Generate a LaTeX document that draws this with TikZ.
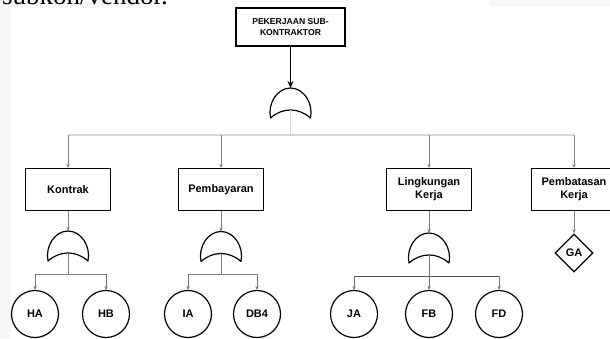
\documentclass[tikz,border=0pt]{standalone}
\usepackage{fontspec}
\setmainfont{Liberation Serif}
\newfontfamily\lsans{Liberation Sans}
\usetikzlibrary{arrows.meta,shapes.geometric}
\begin{document}
\begin{tikzpicture}[x=1pt,y=-1pt,
  lbl/.style={font=\lsans\bfseries\fontsize{11}{13}\selectfont},
  box/.style={lbl, draw=black, line width=1.2pt, minimum width=85pt, minimum height=42pt, inner sep=0pt, align=center},
  topbox/.style={box, line width=1.4pt, minimum width=109pt, minimum height=38pt, font=\lsans\bfseries\fontsize{8.6}{10.5}\selectfont},
  event/.style={lbl, circle, draw=black, line width=1.2pt, minimum size=47pt, inner sep=0pt},
  undev/.style={lbl, diamond, draw=black, line width=1.2pt, minimum width=38pt, minimum height=38pt, inner sep=0pt},
  thickarrow/.style={draw=black, line width=1.5pt, -{Stealth[length=7pt,width=6pt]}},
  bus/.style={draw=black!16, line width=1.4pt},
  branch/.style={draw=black!50, line width=0.7pt, -{Stealth[length=4pt,width=3.5pt]}},
  subline/.style={draw=black!50, line width=1pt},
  subarrow/.style={draw=black!55, line width=0.8pt, -{Stealth[length=4pt,width=3.5pt]}},
  orgate/.pic={
    \draw[line width=1.2pt, line join=round]
      (-20,15) .. controls (-23,0) and (-13,-15) .. (0,-15)
      .. controls (13,-15) and (23,0) .. (20,15)
      .. controls (8,4.3) and (-8,4.3) .. cycle;
    \coordinate (-in) at (0,-15);
    \coordinate (-out) at (0,7);
  }
]
\clip (0,0) rectangle (610,338);
\useasboundingbox (0,0) rectangle (610,338);
% faint page background remnants
\fill[black!3] (0,0) rectangle (11,338);
\fill[black!3] (0,0) rectangle (143,8);
\fill[black!3] (490,0) rectangle (610,7);
\node[anchor=base east, inner sep=0pt, font=\fontsize{27}{30}\selectfont] (cap) at (168,4) {subkon/vendor.};

% top event
\node[topbox] (top) at (290.5,27) {PEKERJAAN SUB-\\KONTRAKTOR};
\pic (g0) at (290.5,103) {orgate};
\draw[thickarrow] (top) -- (g0-in);

% level 1 boxes
\node[box] (kon) at (68,189.5) {Kontrak};
\node[box] (bay) at (221,189.5) {Pembayaran};
\node[box] (lin) at (429,189.5) {Lingkungan\\Kerja};
\node[box] (pat) at (574,189.5) {Pembatasan\\Kerja};

\coordinate (j0) at (290.5,135);
\draw[bus] (g0-out) -- (j0);
\draw[bus] (kon.north |- j0) -- (pat.north |- j0);
\draw[branch] (kon.north |- j0) -- (kon);
\draw[branch] (bay.north |- j0) -- (bay);
\draw[branch] (lin.north |- j0) -- (lin);
\draw[branch] (pat.north |- j0) -- (pat);

% level 2 gates
\pic (g1) at (68,246) {orgate};
\pic (g2) at (221,246.5) {orgate};
\pic (g3) at (429,248) {orgate};
\draw[branch] (kon) -- (g1-in);
\draw[branch] (bay) -- (g2-in);
\draw[branch] (lin) -- (g3-in);

% undeveloped event
\node[undev] (ga) at (574,253) {GA};
\draw[branch] (pat) -- (ga);

% basic events
\node[event] (ha) at (35,314) {HA};
\node[event] (hb) at (106,314) {HB};
\node[event] (ia) at (188,314) {IA};
\node[event] (db) at (257,314) {DB4};
\node[event] (ja) at (354,314) {JA};
\node[event] (fb) at (429,314) {FB};
\node[event] (fd) at (499,314) {FD};

\coordinate (j1) at (68,274);
\draw[subline] (g1-out) -- (j1);
\draw[subline] (ha.north |- j1) -- (hb.north |- j1);
\draw[subarrow] (ha.north |- j1) -- (ha);
\draw[subarrow] (hb.north |- j1) -- (hb);

\coordinate (j2) at (221,274);
\draw[subline] (g2-out) -- (j2);
\draw[subline] (ia.north |- j2) -- (db.north |- j2);
\draw[subarrow] (ia.north |- j2) -- (ia);
\draw[subarrow] (db.north |- j2) -- (db);

\coordinate (j3) at (429,276);
\draw[subline, draw=black!65] (ja.north |- j3) -- (fd.north |- j3);
\draw[subarrow] (g3-out) -- (fb);
\draw[subarrow] (ja.north |- j3) -- (ja);
\draw[subarrow] (fd.north |- j3) -- (fd);
\end{tikzpicture}
\end{document}
